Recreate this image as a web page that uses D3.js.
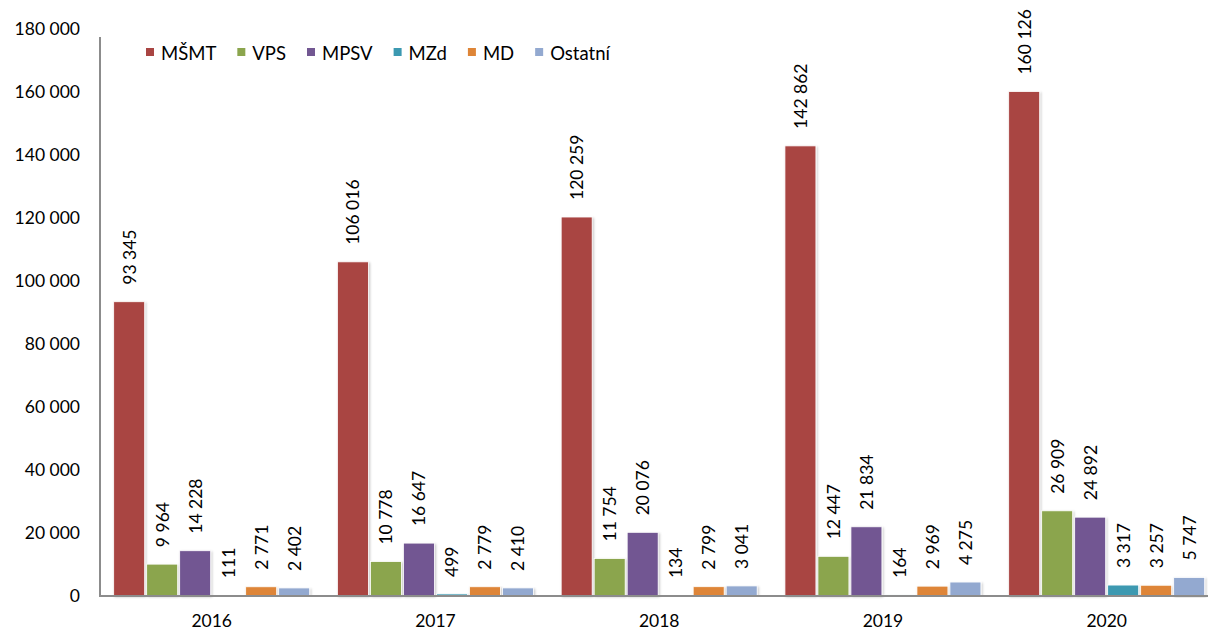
<!DOCTYPE html>
<html>
<head>
<meta charset="utf-8">
<script src="https://cdn.jsdelivr.net/npm/d3@7"></script>
<style>
  html, body { margin: 0; padding: 0; background: #fff; }
  svg { display: block; font-family: Lato, "Open Sans", sans-serif; }
</style>
</head>
<body>
<svg id="chart" width="1208" height="631"></svg>
<script>
const years = ["2016", "2017", "2018", "2019", "2020"];
const seriesNames = ["MŠMT", "VPS", "MPSV", "MZd", "MD", "Ostatní"];
const valsMSMT = [93345, 106016, 120259, 142862, 160126];
const valsVPS = [9964, 10778, 11754, 12447, 26909];
const valsMPSV = [14228, 16647, 20076, 21834, 24892];
const valsMZd = [111, 499, 134, 164, 3317];
const valsMD = [2771, 2779, 2799, 2969, 3257];
const valsOstatni = [2402, 2410, 3041, 4275, 5747];
const seriesColors = ["#A94543", "#8BA54D", "#725792", "#3C99B1", "#DE8537", "#93A9D0"];
const yTicks = [0, 20000, 40000, 60000, 80000, 100000, 120000, 140000, 160000, 180000];

const seriesValues = [valsMSMT, valsVPS, valsMPSV, valsMZd, valsMD, valsOstatni];
const data = years.map((yr, i) => ({
  year: yr,
  vals: seriesNames.map((s, j) => ({ key: s, value: seriesValues[j][i], color: seriesColors[j] }))
}));

const svg = d3.select("#chart");
const fmt = d3.formatLocale({ decimal: ",", thousands: "\u00a0", grouping: [3], currency: ["", ""] }).format(",");
const fontSize = 17.5;
const legendFont = 18.5;

const x0 = d3.scaleBand().domain(years).range([99.8, 99.8 + 5 * 223.75]).padding(0);
const bw = x0.bandwidth();
const groupW = 198;
const x1 = d3.scaleBand().domain(seriesNames)
  .range([(bw - groupW) / 2, (bw + groupW) / 2])
  .paddingInner(2 / 33).paddingOuter(1 / 33);
const y = d3.scaleLinear().domain([0, 180000]).range([595.5, 29]);

// shadow filter
const defs = svg.append("defs");
const f = defs.append("filter").attr("id", "sh").attr("x", "-20%").attr("y", "-5%").attr("width", "140%").attr("height", "115%");
f.append("feDropShadow").attr("dx", 1.2).attr("dy", 1.2).attr("stdDeviation", 1).attr("flood-color", "#000").attr("flood-opacity", 0.22);

// y axis
const yAxis = d3.axisLeft(y).tickValues(yTicks).tickSize(0).tickPadding(20).tickFormat(d => fmt(d));
const gy = svg.append("g").attr("transform", "translate(100,0)").call(yAxis);
gy.select(".domain").remove();
gy.selectAll("text").attr("font-size", fontSize).attr("fill", "#000").attr("font-family", "Lato, sans-serif");
svg.append("line").attr("x1", 100).attr("x2", 100).attr("y1", 37).attr("y2", 596)
  .attr("stroke", "#8c8c8c").attr("stroke-width", 2);

// bars
const groups = svg.append("g").selectAll("g").data(data).join("g")
  .attr("transform", d => `translate(${x0(d.year)},0)`);

groups.selectAll("rect").data(d => d.vals).join("rect")
  .attr("x", d => x1(d.key))
  .attr("width", x1.bandwidth())
  .attr("y", d => y(d.value))
  .attr("height", d => y(0) - y(d.value))
  .attr("fill", d => d.color)
  .attr("stroke", "#fff").attr("stroke-width", 0.8)
  .attr("filter", "url(#sh)");

// labels
groups.selectAll("text.lbl").data(d => d.vals).join("text")
  .attr("class", "lbl")
  .attr("transform", d => {
    const cx = x1(d.key) + x1.bandwidth() / 2 + 6.5;
    const ty = y(d.value) - 17;
    return `translate(${cx},${ty}) rotate(-90)`;
  })
  .attr("font-size", fontSize)
  .attr("fill", "#000")
  .text(d => fmt(d.value));

// x axis
svg.append("line").attr("x1", 99).attr("x2", 1208).attr("y1", 596).attr("y2", 596)
  .attr("stroke", "#8c8c8c").attr("stroke-width", 2);
const xAxis = d3.axisBottom(x0).tickSize(0).tickPadding(0);
const gx = svg.append("g").attr("transform", "translate(0,596)").call(xAxis);
gx.select(".domain").remove();
gx.selectAll("text").attr("font-size", fontSize).attr("fill", "#000")
  .attr("font-family", "Lato, sans-serif").attr("dy", null).attr("y", 30.5);

// legend
const lg = svg.append("g");
let lx = 146;
seriesNames.forEach((s, i) => {
  lg.append("rect").attr("x", lx).attr("y", 48).attr("width", 8).attr("height", 8).attr("fill", seriesColors[i]);
  const t = lg.append("text").attr("x", lx + 15).attr("y", 59.5).attr("font-size", legendFont).attr("fill", "#000").text(s);
  const w = t.node().getComputedTextLength();
  lx = lx + 15 + w + 21;
});
</script>
</body>
</html>
